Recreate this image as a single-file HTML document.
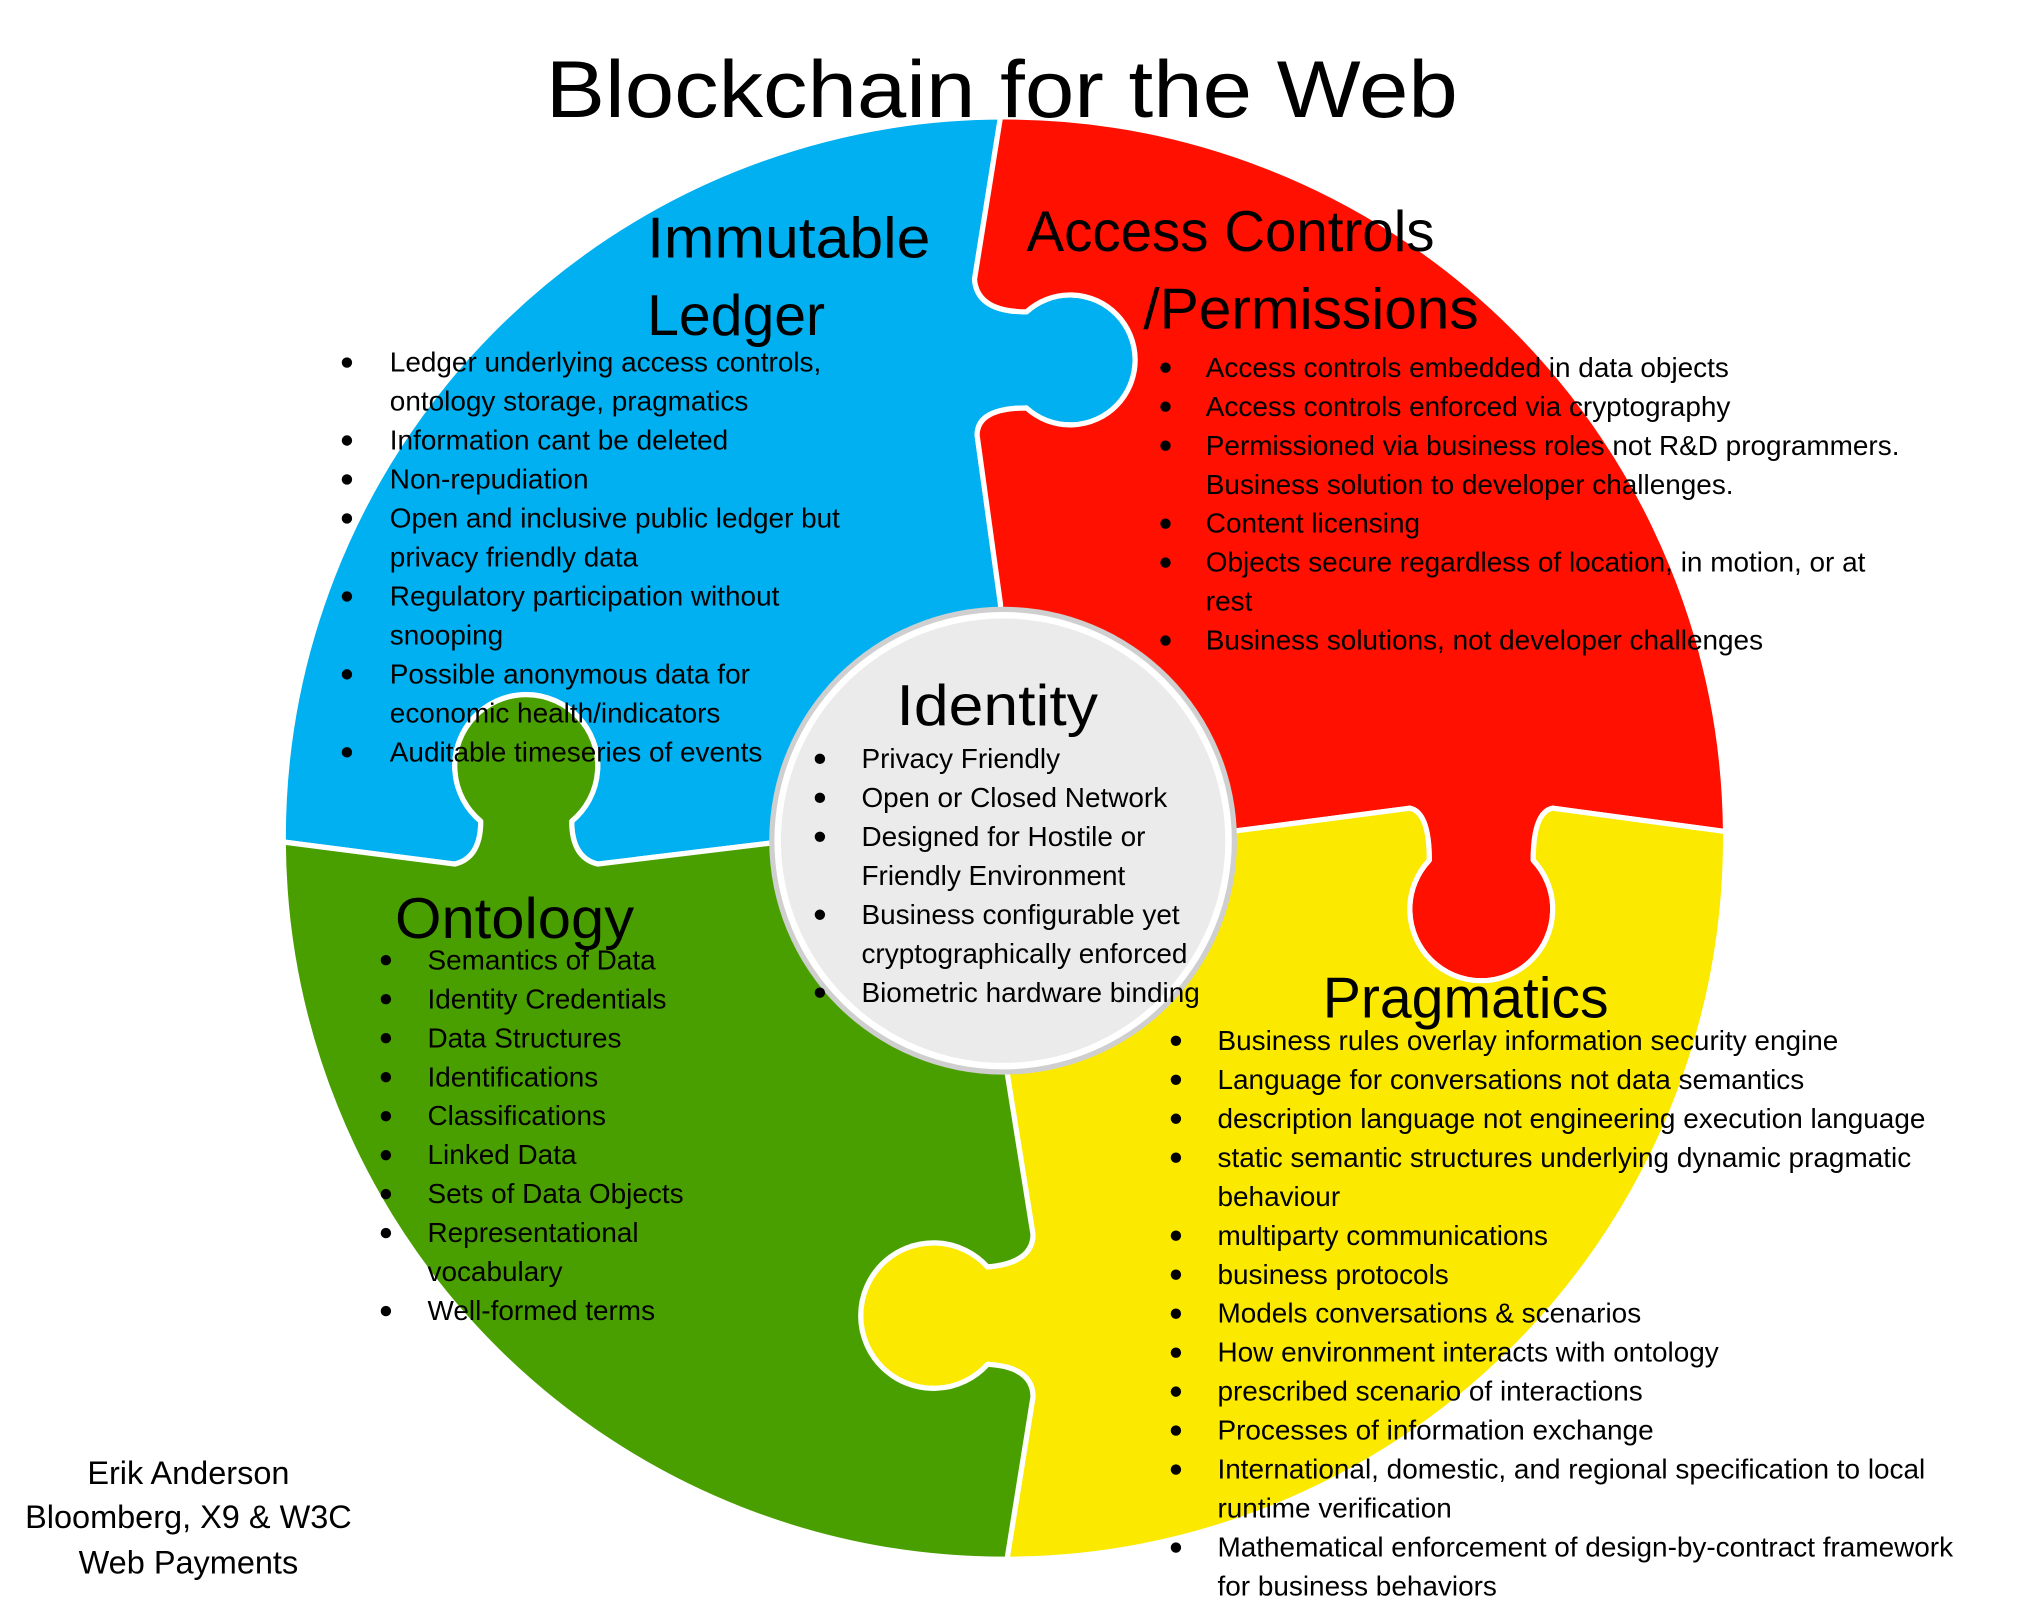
<!DOCTYPE html>
<html><head><meta charset="utf-8"><style>
html,body{margin:0;padding:0;background:#fff;}
svg{display:block;}
text{font-family:"Liberation Sans",sans-serif;fill:#000;}
.b{font-size:21.5px;}
.h{font-size:44px;}
</style></head><body>
<svg width="2027" height="1612" viewBox="0 0 1560 1240.6" xmlns="http://www.w3.org/2000/svg">
<rect width="1560" height="1241" fill="#fff"/>
<g stroke="#fff" stroke-width="4" stroke-linejoin="round">
<path fill="#00b0f0" d="M773,645 L600,648 L460,665 Q440,660 440,632 A55,55 0 1 0 370,632 Q370,660 350,665 L218,648 A555,555 0 0 1 770,90 L750,215 Q752,240 790,240 A50,50 0 1 1 790,314 Q752,314 752,335 L770,465 L773,645 Z"/>
<path fill="#ff1000" d="M770,90 A555,555 0 0 1 1328,640 L1195,622 Q1180,625 1180,662 A55,55 0 1 1 1100,662 Q1100,625 1085,622 L947,640 L773,645 L770,465 L752,335 Q752,314 790,314 A50,50 0 1 0 790,240 Q752,240 750,215 L770,90 Z"/>
<path fill="#fbe900" d="M1328,640 A555,555 0 0 1 775,1200 L795,1075 Q795,1052 760,1050 A56,56 0 1 1 760,975 Q795,972 795,950 L775,825 L773,645 L947,640 L1085,622 Q1100,625 1100,662 A55,55 0 1 0 1180,662 Q1180,625 1195,622 L1328,640 Z"/>
<path fill="#4a9f00" d="M775,1200 A555,555 0 0 1 218,648 L350,665 Q370,660 370,632 A55,55 0 1 1 440,632 Q440,660 460,665 L600,648 L773,645 L775,825 L795,950 Q795,972 760,975 A56,56 0 1 0 760,1050 Q795,1052 795,1075 L775,1200 Z"/>
</g>
<circle cx="772" cy="647" r="180" fill="#cfcfcf"/>
<circle cx="772" cy="647" r="176" fill="#fff"/>
<circle cx="772" cy="647" r="171" fill="#ebebeb"/>

<text x="771" y="90" font-size="62" text-anchor="middle" textLength="702" lengthAdjust="spacingAndGlyphs">Blockchain for the Web</text>

<text class="h" x="498" y="198" textLength="218" lengthAdjust="spacingAndGlyphs">Immutable</text>
<text class="h" x="498" y="258">Ledger</text>
<text class="h" x="790" y="193" textLength="314" lengthAdjust="spacingAndGlyphs">Access Controls</text>
<text class="h" x="880" y="253" textLength="258" lengthAdjust="spacingAndGlyphs">/Permissions</text>
<text class="h" x="690" y="558" textLength="155" lengthAdjust="spacingAndGlyphs">Identity</text>
<text class="h" x="304" y="722" textLength="184" lengthAdjust="spacingAndGlyphs">Ontology</text>
<text class="h" x="1018" y="783" textLength="220" lengthAdjust="spacingAndGlyphs">Pragmatics</text>

<g class="b">
<text x="300" y="286">Ledger underlying access controls,</text>
<text x="300" y="316">ontology storage, pragmatics</text>
<text x="300" y="346">Information cant be deleted</text>
<text x="300" y="376">Non-repudiation</text>
<text x="300" y="406">Open and inclusive public ledger but</text>
<text x="300" y="436">privacy friendly data</text>
<text x="300" y="466">Regulatory participation without</text>
<text x="300" y="496">snooping</text>
<text x="300" y="526">Possible anonymous data for</text>
<text x="300" y="556">economic health/indicators</text>
<text x="300" y="586">Auditable timeseries of events</text>

<text x="928" y="290">Access controls embedded in data objects</text>
<text x="928" y="320">Access controls enforced via cryptography</text>
<text x="928" y="350">Permissioned via business roles not R&amp;D programmers.</text>
<text x="928" y="380">Business solution to developer challenges.</text>
<text x="928" y="410">Content licensing</text>
<text x="928" y="440">Objects secure regardless of location, in motion, or at</text>
<text x="928" y="470">rest</text>
<text x="928" y="500">Business solutions, not developer challenges</text>

<text x="663" y="591">Privacy Friendly</text>
<text x="663" y="621">Open or Closed Network</text>
<text x="663" y="651">Designed for Hostile or</text>
<text x="663" y="681">Friendly Environment</text>
<text x="663" y="711">Business configurable yet</text>
<text x="663" y="741">cryptographically enforced</text>
<text x="663" y="771">Biometric hardware binding</text>

<text x="329" y="746">Semantics of Data</text>
<text x="329" y="776">Identity Credentials</text>
<text x="329" y="806">Data Structures</text>
<text x="329" y="836">Identifications</text>
<text x="329" y="866">Classifications</text>
<text x="329" y="896">Linked Data</text>
<text x="329" y="926">Sets of Data Objects</text>
<text x="329" y="956">Representational</text>
<text x="329" y="986">vocabulary</text>
<text x="329" y="1016">Well-formed terms</text>

<text x="937" y="808">Business rules overlay information security engine</text>
<text x="937" y="838">Language for conversations not data semantics</text>
<text x="937" y="868">description language not engineering execution language</text>
<text x="937" y="898">static semantic structures underlying dynamic pragmatic</text>
<text x="937" y="928">behaviour</text>
<text x="937" y="958">multiparty communications</text>
<text x="937" y="988">business protocols</text>
<text x="937" y="1018">Models conversations &amp; scenarios</text>
<text x="937" y="1048">How environment interacts with ontology</text>
<text x="937" y="1078">prescribed scenario of interactions</text>
<text x="937" y="1108">Processes of information exchange</text>
<text x="937" y="1138">International, domestic, and regional specification to local</text>
<text x="937" y="1168">runtime verification</text>
<text x="937" y="1198">Mathematical enforcement of design-by-contract framework</text>
<text x="937" y="1228">for business behaviors</text>
</g>

<g fill="#000">
<circle cx="267" cy="279" r="4"/><circle cx="267" cy="339" r="4"/><circle cx="267" cy="369" r="4"/><circle cx="267" cy="399" r="4"/><circle cx="267" cy="459" r="4"/><circle cx="267" cy="519" r="4"/><circle cx="267" cy="579" r="4"/>
<circle cx="897" cy="283" r="4"/><circle cx="897" cy="313" r="4"/><circle cx="897" cy="343" r="4"/><circle cx="897" cy="403" r="4"/><circle cx="897" cy="433" r="4"/><circle cx="897" cy="493" r="4"/>
<circle cx="631" cy="584" r="4"/><circle cx="631" cy="614" r="4"/><circle cx="631" cy="644" r="4"/><circle cx="631" cy="704" r="4"/><circle cx="631" cy="764" r="4"/>
<circle cx="297" cy="739" r="4"/><circle cx="297" cy="769" r="4"/><circle cx="297" cy="799" r="4"/><circle cx="297" cy="829" r="4"/><circle cx="297" cy="859" r="4"/><circle cx="297" cy="889" r="4"/><circle cx="297" cy="919" r="4"/><circle cx="297" cy="949" r="4"/><circle cx="297" cy="1009" r="4"/>
<circle cx="905" cy="801" r="4"/><circle cx="905" cy="831" r="4"/><circle cx="905" cy="861" r="4"/><circle cx="905" cy="891" r="4"/><circle cx="905" cy="951" r="4"/><circle cx="905" cy="981" r="4"/><circle cx="905" cy="1011" r="4"/><circle cx="905" cy="1041" r="4"/><circle cx="905" cy="1071" r="4"/><circle cx="905" cy="1101" r="4"/><circle cx="905" cy="1131" r="4"/><circle cx="905" cy="1191" r="4"/>
</g>

<g font-size="25" text-anchor="middle">
<text x="145" y="1142">Erik Anderson</text>
<text x="145" y="1176">Bloomberg, X9 &amp; W3C</text>
<text x="145" y="1211">Web Payments</text>
</g>
</svg>
</body></html>
